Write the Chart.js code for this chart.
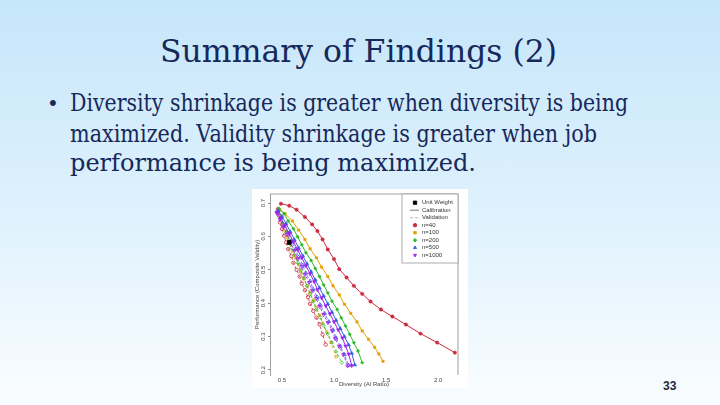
<!DOCTYPE html>
<html>
<head>
<meta charset="utf-8">
<script src="https://cdn.jsdelivr.net/npm/chart.js@4.4.1/dist/chart.umd.min.js"></script>
<style>
html, body { margin: 0; padding: 0; }
body {
  width: 720px; height: 405px; overflow: hidden; position: relative;
  background: linear-gradient(to bottom, #c6e6fa 0%, #e0f2fd 55%, #fafdff 100%);
  font-family: "DejaVu Serif", serif; color: #17285a;
}
.t { position: absolute; white-space: nowrap; line-height: 1; transform-origin: 0 0; }
#title { font-size: 32px; left: 160px; top: 35px; }
.b { font-size: 24px; left: 70px; }
#bullet { position: absolute; left: 47px; top: 94px; font-size: 20px; line-height: 1; }
#box { position: absolute; left: 252px; top: 189px; width: 216px; height: 199px; background: #fff; }
#pg { position: absolute; left: 663px; top: 379px; font: bold 12px "Liberation Sans", sans-serif; color: #1e2b3a; }
</style>
</head>
<body>
<div id="title" class="t">Summary of Findings (2)</div>
<div id="bullet">•</div>
<div id="l1" class="t b" style="top:91px">Diversity shrinkage is greater when diversity is being</div>
<div id="l2" class="t b" style="top:122px">maximized. Validity shrinkage is greater when job</div>
<div id="l3" class="t b" style="top:151px">performance is being maximized.</div>
<div id="box"><canvas id="chart" width="216" height="199"></canvas></div>
<div id="pg">33</div>
<script>
// tick labels
var xTicks = [0.5, 1.0, 1.5, 2.0];
var yTicks = [0.2, 0.3, 0.4, 0.5, 0.6, 0.7];

// sample sizes
var sizes = ['n=40', 'n=100', 'n=200', 'n=500', 'n=1000'];
var colors = ['#cc2a3d', '#e69f00', '#2db82d', '#2f5fd8', '#a020f0'];
var shapes = ['circle', 'rect', 'rectRot', 'triangle', 'triangle'];
var rotations = [0, 0, 0, 0, 180];

// unit weight point
var unitX = [0.57];
var unitY = [0.582];

// calibration curves
var calX40 = [0.49, 0.57, 0.64, 0.72, 0.79, 0.84, 0.89, 0.94, 1.00, 1.05, 1.12, 1.19, 1.27, 1.35, 1.45, 1.56, 1.69, 1.83, 1.99, 2.16];
var calY40 = [0.698, 0.692, 0.680, 0.658, 0.636, 0.616, 0.591, 0.561, 0.532, 0.502, 0.477, 0.452, 0.428, 0.405, 0.381, 0.360, 0.336, 0.309, 0.282, 0.252];
var calX100 = [0.48, 0.53, 0.60, 0.66, 0.72, 0.77, 0.83, 0.88, 0.94, 0.99, 1.05, 1.10, 1.16, 1.22, 1.27, 1.33, 1.39, 1.43, 1.47];
var calY100 = [0.680, 0.668, 0.646, 0.619, 0.591, 0.563, 0.536, 0.508, 0.480, 0.452, 0.425, 0.397, 0.370, 0.344, 0.317, 0.292, 0.268, 0.248, 0.226];
var calX200 = [0.47, 0.52, 0.56, 0.61, 0.65, 0.69, 0.73, 0.78, 0.82, 0.86, 0.90, 0.94, 0.98, 1.03, 1.07, 1.11, 1.15, 1.19, 1.23, 1.27];
var calY200 = [0.684, 0.668, 0.646, 0.623, 0.599, 0.575, 0.551, 0.528, 0.504, 0.480, 0.455, 0.431, 0.406, 0.381, 0.356, 0.332, 0.307, 0.282, 0.257, 0.222];
var calX500 = [0.46, 0.50, 0.54, 0.58, 0.62, 0.66, 0.70, 0.74, 0.78, 0.82, 0.86, 0.90, 0.94, 0.98, 1.02, 1.06, 1.10, 1.14, 1.17, 1.20];
var calY500 = [0.678, 0.660, 0.638, 0.614, 0.590, 0.566, 0.542, 0.518, 0.494, 0.470, 0.446, 0.422, 0.398, 0.373, 0.349, 0.324, 0.300, 0.275, 0.250, 0.215];
var calX1000 = [0.45, 0.49, 0.53, 0.57, 0.61, 0.65, 0.69, 0.73, 0.77, 0.81, 0.84, 0.88, 0.92, 0.96, 1.00, 1.04, 1.08, 1.11, 1.14, 1.17];
var calY1000 = [0.672, 0.654, 0.632, 0.608, 0.584, 0.560, 0.536, 0.512, 0.488, 0.464, 0.440, 0.416, 0.392, 0.368, 0.344, 0.320, 0.296, 0.272, 0.248, 0.213];

// validation curves
var valX40 = [0.46, 0.47, 0.48, 0.50, 0.52, 0.54, 0.56, 0.59, 0.61, 0.64, 0.67, 0.69, 0.72, 0.75, 0.77, 0.80, 0.83, 0.86, 0.89, 0.92];
var valY40 = [0.682, 0.662, 0.642, 0.622, 0.602, 0.582, 0.562, 0.541, 0.521, 0.500, 0.480, 0.459, 0.439, 0.418, 0.398, 0.377, 0.357, 0.337, 0.306, 0.276];
var valX100 = [0.47, 0.49, 0.51, 0.53, 0.55, 0.58, 0.60, 0.63, 0.66, 0.68, 0.71, 0.74, 0.77, 0.80, 0.83, 0.86, 0.89, 0.93, 0.97, 1.02];
var valY100 = [0.676, 0.657, 0.637, 0.617, 0.597, 0.577, 0.556, 0.536, 0.515, 0.494, 0.473, 0.452, 0.431, 0.409, 0.387, 0.364, 0.340, 0.314, 0.283, 0.240];
var valX200 = [0.465, 0.49, 0.51, 0.54, 0.57, 0.59, 0.62, 0.65, 0.68, 0.71, 0.74, 0.77, 0.80, 0.83, 0.87, 0.90, 0.94, 0.98, 1.02, 1.075];
var valY200 = [0.676, 0.656, 0.634, 0.612, 0.590, 0.567, 0.544, 0.521, 0.498, 0.475, 0.452, 0.428, 0.405, 0.381, 0.357, 0.333, 0.308, 0.282, 0.255, 0.222];
var valX500 = [0.46, 0.49, 0.52, 0.56, 0.59, 0.63, 0.66, 0.70, 0.73, 0.77, 0.80, 0.84, 0.87, 0.91, 0.95, 0.99, 1.02, 1.06, 1.10, 1.14];
var valY500 = [0.674, 0.655, 0.633, 0.610, 0.586, 0.562, 0.538, 0.514, 0.490, 0.466, 0.442, 0.418, 0.394, 0.369, 0.345, 0.320, 0.296, 0.271, 0.246, 0.214];
var valX1000 = [0.45, 0.48, 0.51, 0.55, 0.58, 0.62, 0.65, 0.69, 0.72, 0.76, 0.79, 0.83, 0.86, 0.90, 0.94, 0.98, 1.01, 1.05, 1.09, 1.13];
var valY1000 = [0.670, 0.651, 0.629, 0.606, 0.582, 0.558, 0.534, 0.510, 0.486, 0.462, 0.438, 0.414, 0.390, 0.366, 0.342, 0.318, 0.294, 0.270, 0.246, 0.212];

var calX = [calX40, calX100, calX200, calX500, calX1000];
var calY = [calY40, calY100, calY200, calY500, calY1000];
var valX = [valX40, valX100, valX200, valX500, valX1000];
var valY = [valY40, valY100, valY200, valY500, valY1000];

// stretch the slide text to the widths in the picture
function fit(id, w) {
  var el = document.getElementById(id);
  el.style.transform = 'scaleX(' + (w / el.getBoundingClientRect().width) + ')';
}
fit('title', 397);
fit('l1', 558);
fit('l2', 527);
fit('l3', 406);

function pts(xs, ys) {
  return xs.map(function(x, i) { return {x: x, y: ys[i]}; });
}

var datasets = [{
  data: pts(unitX, unitY), pointStyle: 'rect', pointRadius: 2.6,
  pointBackgroundColor: '#000', pointBorderColor: '#000', showLine: false
}];
for (var i = sizes.length - 1; i >= 0; i--) {
  var r = i >= 3 ? 2.1 : 1.7;
  datasets.push({
    label: sizes[i] + ' calibration', data: pts(calX[i], calY[i]), showLine: true,
    borderColor: colors[i], borderWidth: 1, pointStyle: shapes[i], pointRotation: rotations[i],
    pointRadius: r, pointBackgroundColor: colors[i], pointBorderColor: colors[i], pointBorderWidth: 0.5
  });
  datasets.push({
    label: sizes[i] + ' validation', data: pts(valX[i], valY[i]), showLine: true,
    borderColor: colors[i], borderWidth: 0.8, borderDash: [3, 2], pointStyle: shapes[i], pointRotation: rotations[i],
    pointRadius: r, pointBackgroundColor: 'rgba(255,255,255,0)', pointBorderColor: colors[i], pointBorderWidth: 0.8
  });
}

var frame = {
  id: 'frame',
  afterDraw: function(chart) {
    var ctx = chart.ctx, a = chart.chartArea, ys = chart.scales.y;
    ctx.save();
    ctx.strokeStyle = '#888'; ctx.lineWidth = 0.8;
    ctx.beginPath();
    ctx.moveTo(a.left, a.top); ctx.lineTo(a.right, a.top); ctx.lineTo(a.right, a.bottom);
    ctx.stroke();

    // y tick labels, turned like R's
    ctx.fillStyle = '#444'; ctx.font = '6px "Liberation Sans", sans-serif';
    ctx.textAlign = 'center'; ctx.textBaseline = 'middle';
    yTicks.forEach(function(v) {
      ctx.save();
      ctx.translate(a.left - 7, ys.getPixelForValue(v));
      ctx.rotate(-Math.PI / 2);
      ctx.fillText(v.toFixed(1), 0, 0);
      ctx.restore();
    });

    // legend
    var lx = a.right - 56, ly = a.top, lw = 56, lh = 69;
    ctx.fillStyle = '#fff'; ctx.fillRect(lx, ly, lw, lh);
    ctx.strokeStyle = '#999'; ctx.strokeRect(lx, ly, lw, lh);
    var items = [
      {label: 'Unit Weight', style: 'rect', color: '#000', rot: 0},
      {label: 'Calibration', line: []},
      {label: 'Validation', line: [3, 2]}
    ];
    sizes.forEach(function(s, k) { items.push({label: s, style: shapes[k], color: colors[k], rot: rotations[k]}); });
    ctx.textAlign = 'left';
    items.forEach(function(it, k) {
      var y = ly + 8.7 + k * 7.5, x = lx + 13;
      if (it.line) {
        ctx.save();
        ctx.strokeStyle = it.line.length ? '#aaa' : '#555'; ctx.lineWidth = 0.8;
        ctx.setLineDash(it.line);
        ctx.beginPath(); ctx.moveTo(x - 5, y); ctx.lineTo(x + 4, y); ctx.stroke();
        ctx.restore();
      } else {
        ctx.fillStyle = it.color; ctx.strokeStyle = it.color;
        Chart.helpers.drawPoint(ctx, {pointStyle: it.style, radius: k === 0 ? 2.4 : 1.8, rotation: it.rot, borderWidth: 0.5}, x, y);
      }
      ctx.fillStyle = '#333';
      ctx.fillText(it.label, lx + 20, y);
    });
    ctx.restore();
  }
};

new Chart(document.getElementById('chart'), {
  type: 'scatter',
  data: { datasets: datasets },
  options: {
    responsive: false,
    animation: false,
    layout: { padding: { top: 3, right: 10, left: 0, bottom: 0 } },
    plugins: { legend: { display: false }, tooltip: { enabled: false } },
    elements: { line: { tension: 0, fill: false } },
    scales: {
      x: {
        type: 'linear', min: 0.385, max: 2.19,
        afterBuildTicks: function(s) { s.ticks = xTicks.map(function(v) { return {value: v}; }); },
        afterFit: function(s) { s.height = 13; },
        ticks: {
          callback: function(v) { return v.toFixed(1); },
          font: { size: 6, family: 'Liberation Sans' }, color: '#444', padding: 2, maxRotation: 0, autoSkip: false
        },
        grid: { display: false, drawTicks: false, tickLength: 0 },
        border: { display: false },
        title: { display: true, text: 'Diversity (AI Ratio)', font: { size: 6, family: 'Liberation Sans' }, color: '#444', padding: { top: 0, bottom: 0 } }
      },
      y: {
        type: 'linear', min: 0.185, max: 0.727,
        afterBuildTicks: function(s) { s.ticks = yTicks.map(function(v) { return {value: v}; }); },
        afterFit: function(s) { s.width = 18; },
        ticks: { display: false },
        grid: { drawOnChartArea: false, tickLength: 2, color: '#888' },
        border: { display: true, color: '#888', width: 0.8 },
        title: { display: true, text: 'Performance (Composite Validity)', font: { size: 6, family: 'Liberation Sans' }, color: '#444', padding: { top: 2, bottom: 0 } }
      }
    }
  },
  plugins: [frame]
});
</script>
</body>
</html>
